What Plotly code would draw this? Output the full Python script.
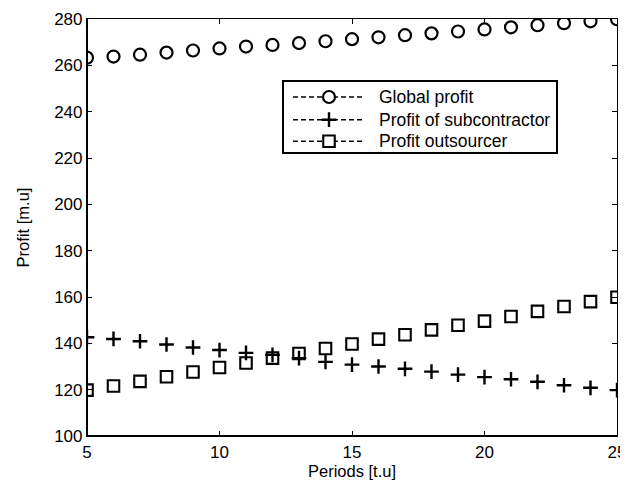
import plotly.graph_objects as go

periods = list(range(5, 26))
global_profit = [263.3, 263.8, 264.6, 265.5, 266.4, 267.3, 268.1, 268.8, 269.6, 270.4, 271.3,
                 272.1, 273.0, 273.8, 274.6, 275.5, 276.4, 277.3, 278.2, 279.0, 279.9]
profit_sub = [142.6, 141.9, 140.9, 139.5, 138.2, 137.1, 135.9, 135.0, 133.6, 132.0, 130.8,
              130.0, 129.0, 127.8, 126.5, 125.4, 124.5, 123.4, 121.9, 120.8, 119.8]
profit_out = [119.8, 121.6, 123.6, 125.6, 127.6, 129.6, 131.5, 133.6, 135.6, 137.8, 139.7,
              141.8, 143.7, 145.8, 147.8, 149.6, 151.6, 153.8, 155.9, 158.0, 159.9]
names = ["Global profit", "Profit of subcontractor", "Profit outsourcer"]

font = "Liberation Sans, Arial, sans-serif"
# (values, symbol in plot, symbol in legend, size, line width)
specs = [
    (global_profit, "circle-open", "circle", 12, 2.2),
    (profit_sub, "cross-thin-open", "cross-thin-open", 10.5, 2.4),
    (profit_out, "square-open", "square", 11.5, 2.1),
]

fig = go.Figure()
for ys, sym, lsym, sz, lw in specs:
    fig.add_trace(go.Scatter(x=periods, y=ys, mode="markers", showlegend=False,
                             marker=dict(symbol=sym, size=sz, color="black",
                                         line=dict(color="black", width=lw))))

# manual legend (paper-fraction coordinates on an overlay axis)
leg_left, leg_right, leg_top, leg_bottom = 0.3698, 0.8868, 0.8513, 0.6787
row_y = [0.8129, 0.7585, 0.7067]
line_x0, line_x1, mark_x, text_x = 0.3887, 0.5245, 0.4566, 0.5472

shapes = [dict(type="rect", xref="x2", yref="y2", x0=leg_left, x1=leg_right,
               y0=leg_bottom, y1=leg_top, line=dict(color="black", width=2),
               fillcolor="white", layer="below")]
# thicker left and bottom axis lines (top/right stay thin)
shapes.append(dict(type="line", xref="paper", yref="paper", x0=0, x1=0, y0=0, y1=1,
                   line=dict(color="black", width=2)))
shapes.append(dict(type="line", xref="paper", yref="paper", x0=0, x1=1, y0=0, y1=0,
                   line=dict(color="black", width=2)))
annotations = []
for spec, nm, ry in zip(specs, names, row_y):
    shapes.append(dict(type="line", xref="x2", yref="y2", x0=line_x0, x1=line_x1,
                       y0=ry, y1=ry, line=dict(color="black", width=1.5, dash="5px,3px"),
                       layer="below"))
    annotations.append(dict(xref="x2", yref="y2", x=text_x, y=ry, text=nm,
                            showarrow=False, xanchor="left", yanchor="middle",
                            font=dict(family=font, size=17.5, color="black")))
for (ys, sym, lsym, sz, lw), ry in zip(specs, row_y):
    col = "black" if lsym.endswith("open") else "white"
    fig.add_trace(go.Scatter(x=[mark_x], y=[ry], xaxis="x2", yaxis="y2", mode="markers",
                             showlegend=False, hoverinfo="skip",
                             marker=dict(symbol=lsym, size=sz, color=col,
                                         line=dict(color="black", width=lw))))

axis_common = dict(showgrid=False, zeroline=False, showline=True, linecolor="black",
                   linewidth=1.2, mirror="ticks", ticks="inside", ticklen=5,
                   tickwidth=1, tickcolor="black", automargin=False,
                   tickfont=dict(family=font, size=17, color="black"))
fig.update_xaxes(range=[5, 25], tickvals=[5, 10, 15, 20, 25],
                 title=dict(text="Periods [t.u]", font=dict(family=font, size=16.5, color="black"), standoff=4),
                 **axis_common)
fig.update_yaxes(range=[100, 280], tickvals=list(range(100, 281, 20)),
                 title=dict(text="Profit [m.u]", font=dict(family=font, size=16.5, color="black"), standoff=20),
                 **axis_common)
# the page body adds an 8px offset, so the figure is sized/margined to compensate
fig.update_layout(
    width=620, height=479, plot_bgcolor="white", paper_bgcolor="white",
    margin=dict(l=79, r=11, t=11, b=51),
    xaxis2=dict(overlaying="x", range=[0, 1], visible=False, fixedrange=True),
    yaxis2=dict(overlaying="y", range=[0, 1], visible=False, fixedrange=True),
    shapes=shapes, annotations=annotations, showlegend=False,
)
fig.write_html("out.html")
